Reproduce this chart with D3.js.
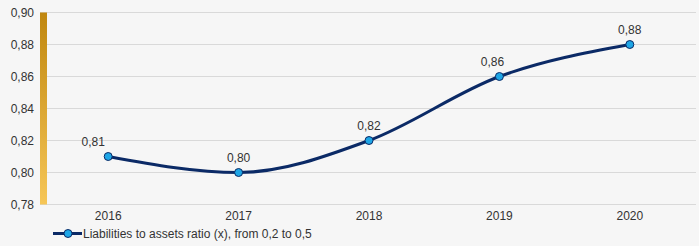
<!DOCTYPE html>
<html><head><meta charset="utf-8">
<script src="https://cdn.jsdelivr.net/npm/d3@7"></script>
<style>body{margin:0;background:#f6f6f6;}svg{display:block;font-family:Arial,"Liberation Sans",sans-serif;}</style>
</head><body>
<script>
const years = ["2016","2017","2018","2019","2020"];
const values = [0.81, 0.80, 0.82, 0.86, 0.88];
const valueLabels = ["0,81","0,80","0,82","0,86","0,88"];
const yTicks = [0.78,0.80,0.82,0.84,0.86,0.88,0.90];
const seriesName = "Liabilities to assets ratio (x), from 0,2 to 0,5";

const W=699,H=246;
const svg=d3.select("body").append("svg").attr("width",W).attr("height",H);
svg.append("rect").attr("width",W).attr("height",H).attr("fill","#f6f6f6");

const x=d3.scaleBand().domain(years).range([43,695]);
const y=d3.scaleLinear().domain([0.78,0.90]).range([204.5,12.5]);

const defs=svg.append("defs");
const g=defs.append("linearGradient").attr("id","bar").attr("x1",0).attr("y1",0).attr("x2",0).attr("y2",1);
g.append("stop").attr("offset","0%").attr("stop-color","#c0870f");
g.append("stop").attr("offset","100%").attr("stop-color","#f6c657");

// grid
svg.append("g").selectAll("line").data(yTicks).join("line")
 .attr("x1",40).attr("x2",696).attr("y1",d=>y(d)).attr("y2",d=>y(d))
 .attr("stroke","#d9d9d9").attr("stroke-width",1);

svg.append("rect").attr("x",40).attr("y",y(0.90)).attr("width",7).attr("height",y(0.78)-y(0.90)).attr("fill","url(#bar)");

// y axis labels
const yAxis=d3.axisLeft(y).tickValues(yTicks).tickSize(0).tickPadding(0).tickFormat(d=>d3.format(".2f")(d).replace(".",","));
const ya=svg.append("g").attr("transform","translate(34,0)").call(yAxis);
ya.select(".domain").remove();
ya.selectAll("text").attr("font-size",12).attr("fill","#333").attr("font-family","Arial,'Liberation Sans',sans-serif");

// x axis labels
const xAxis=d3.axisBottom(x).tickSize(0).tickPadding(0);
const xa=svg.append("g").attr("transform","translate(0,211)").call(xAxis);
xa.select(".domain").remove();
xa.selectAll("text").attr("font-size",12).attr("fill","#333").attr("font-family","Arial,'Liberation Sans',sans-serif");

const cx=(d,i)=>x(years[i])+x.bandwidth()/2;
const line=d3.line().x((d,i)=>cx(d,i)).y(d=>y(d)).curve(d3.curveMonotoneX);
svg.append("path").datum(values).attr("d",line).attr("fill","none").attr("stroke","#0b2a66").attr("stroke-width",3);
svg.append("g").selectAll("circle").data(values).join("circle")
 .attr("cx",cx).attr("cy",d=>y(d)).attr("r",4).attr("fill","#1ea6e6").attr("stroke","#0b2a66").attr("stroke-width",1);
// label placement nudges (layout only)
const labelDx=[-15,0,0,-7,0];
svg.append("g").selectAll("text").data(values).join("text")
 .attr("x",(d,i)=>cx(d,i)+labelDx[i]).attr("y",d=>y(d)-11).attr("text-anchor","middle").attr("font-size",12).attr("fill","#333")
 .text((d,i)=>valueLabels[i]);

// legend
const lg=svg.append("g");
lg.append("line").attr("x1",53).attr("x2",82).attr("y1",233.5).attr("y2",233.5).attr("stroke","#0b2a66").attr("stroke-width",3);
lg.append("circle").attr("cx",68).attr("cy",233.5).attr("r",4).attr("fill","#1ea6e6").attr("stroke","#0b2a66");
lg.append("text").attr("x",83).attr("y",238).attr("font-size",12).attr("fill","#333").text(seriesName);
</script>
</body></html>
